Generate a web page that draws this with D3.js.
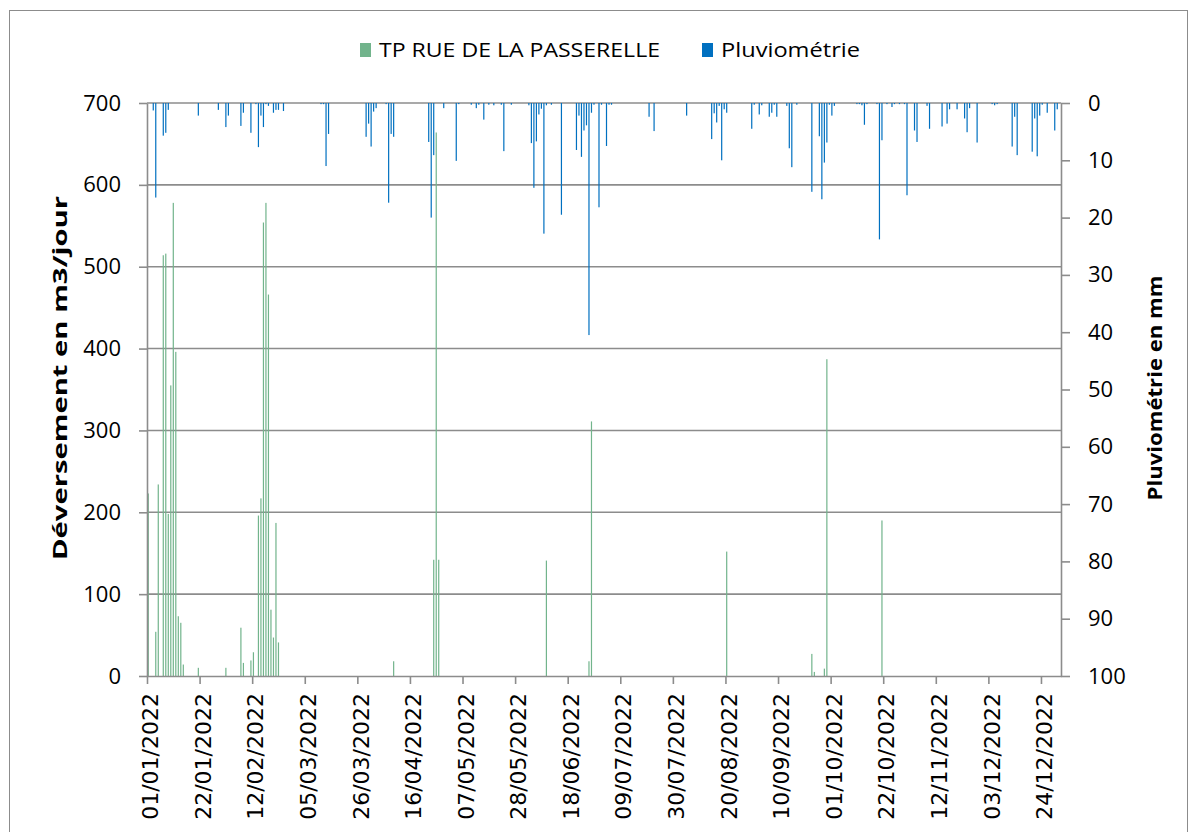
<!DOCTYPE html>
<html>
<head>
<meta charset="utf-8">
<script src="https://cdn.jsdelivr.net/npm/d3@7"></script>
<style>
  body { margin: 0; background: #fff; }
  svg text { font-family: "Open Sans", sans-serif; fill: #000; }
</style>
</head>
<body>
<div id="chart"></div>
<script>
  // labels on the date axis (every 21 days)
  var tickLabels = ["01/01/2022", "22/01/2022", "12/02/2022", "05/03/2022", "26/03/2022", "16/04/2022",
    "07/05/2022", "28/05/2022", "18/06/2022", "09/07/2022", "30/07/2022", "20/08/2022",
    "10/09/2022", "01/10/2022", "22/10/2022", "12/11/2022", "03/12/2022", "24/12/2022"];

  // déversement TP RUE DE LA PASSERELLE, day of year (0 = 01/01/2022) and m3/jour
  var overflowDay = [0, 3, 4, 6, 7, 8, 9, 10, 11, 12, 13, 14, 20, 31, 37, 38, 41, 42, 44, 45, 46, 47, 48,
    49, 50, 51, 52, 98, 114, 115, 116, 159, 176, 177, 231, 265, 266, 270, 271, 293];
  var overflowM3 = [223, 54, 234, 514, 516, 198, 355, 578, 396, 73, 65, 14, 10, 10, 59, 16, 19, 29, 196, 217, 554, 578, 466,
    81, 47, 187, 41, 18, 142, 664, 142, 141, 18, 311, 152, 27, 5, 9, 387, 190];

  // pluviométrie, day of year (0 = 01/01/2022) and mm
  var rainDay = [2, 3, 6, 7, 8, 20, 28, 31, 32, 37, 38, 41, 43, 44, 45, 46, 47, 48, 50, 51, 52, 54,
    69, 70, 71, 72, 87, 88, 89, 90, 91, 95, 96, 97, 98, 112, 113, 114, 118, 123, 124,
    129, 131, 132, 134, 136, 138, 141, 142, 145, 152, 153, 154, 155, 156, 157, 158, 159, 161, 165,
    171, 172, 173, 174, 175, 176, 177, 178, 180, 181, 183, 184, 185, 200, 202, 215,
    225, 226, 227, 228, 229, 230, 231, 241, 242, 244, 245, 248, 249, 250, 251, 255, 256, 257, 259,
    265, 268, 269, 270, 271, 272, 273, 274, 283, 284, 285, 286, 287, 291, 292, 293, 295, 297, 298,
    300, 302, 303, 306, 307, 311, 312, 317, 319, 320, 323, 326, 327, 328, 331, 337, 338, 339,
    345, 346, 347, 353, 354, 355, 356, 357, 359, 362, 363];
  var rainMm = [1.3, 16.5, 5.7, 5.2, 1.2, 2.2, 1.2, 4.2, 2.2, 4.0, 1.7, 5.2, 0.2, 7.7, 2.2, 4.2, 0.2, 0.5, 1.7, 1.2, 1.2, 1.4,
    0.2, 0.2, 11, 5.4, 5.9, 3.6, 7.6, 1.5, 0.9, 0.2, 17.4, 5.4, 5.9, 6.8, 20, 9.1, 0.9, 10.1, 0.2,
    0.3, 0.9, 0.3, 2.9, 0.3, 0.4, 0.3, 8.4, 0.3, 0.4, 7.0, 14.8, 6.7, 2.0, 1.0, 22.8, 0.4, 0.3, 19.5,
    8.2, 2.2, 9.4, 4.8, 3.9, 40.5, 1.7, 0.3, 18.2, 0.3, 7.5, 0.3, 0.3, 2.4, 4.9, 2.2,
    6.3, 1.8, 3.4, 0.5, 10.0, 1.1, 1.7, 4.5, 0.3, 2.0, 0.4, 2.4, 1.7, 0.3, 2.4, 0.5, 7.9, 11.2, 0.3,
    15.5, 5.8, 16.8, 10.4, 6.9, 0.3, 2.2, 0.5, 0.2, 0.2, 0.4, 3.8, 0.2, 0.2, 23.8, 6.5, 0.2, 0.7, 0.2,
    0.2, 0.2, 16.1, 4.8, 6.8, 0.5, 4.5, 4.1, 3.6, 1.1, 1.1, 2.7, 5.1, 0.9, 6.9, 0.2, 0.4, 0.2,
    7.6, 2.4, 9.1, 8.5, 2.7, 9.3, 2.2, 0.3, 1.7, 4.8, 1.1];

  var green = "#72b48c";
  var blue = "#0070c0";
  var grid = "#8c8c8c";

  var margin = {left: 147, top: 103};
  var width = 914;
  var height = 573;

  var parseDate = d3.timeParse("%d/%m/%Y");
  var formatDate = d3.timeFormat("%d/%m/%Y");
  var start = parseDate("01/01/2022");
  var end = parseDate("01/01/2023");

  var x = d3.scaleTime().domain([start, end]).range([0, width]);
  var y = d3.scaleLinear().domain([0, 700]).range([height, 0]);
  var yRain = d3.scaleLinear().domain([0, 100]).range([0, height]);  // inverted: 0 at top

  var dayW = x(d3.timeDay.offset(start, 1)) - x(start);
  var barW = 1.2;

  function dayX(d) {
    return x(d3.timeDay.offset(start, d)) + dayW / 2 - barW / 2;
  }

  var overflow = overflowDay.map(function (d, i) { return {day: d, value: overflowM3[i]}; });
  var rain = rainDay.map(function (d, i) { return {day: d, value: rainMm[i]}; });

  var svg = d3.select("#chart")
    .append("svg")
    .attr("width", 1190)
    .attr("height", 832);

  // chart frame
  svg.append("rect")
    .attr("x", 9.5)
    .attr("y", 10.5)
    .attr("width", 1178)
    .attr("height", 900)
    .attr("fill", "none")
    .attr("stroke", "#8c8c8c")
    .attr("stroke-width", 1);

  var chartGroup = svg.append("g")
    .attr("transform", "translate(" + margin.left + "," + margin.top + ")");

  // horizontal gridlines
  chartGroup.append("g")
    .selectAll("line")
    .data(d3.range(100, 701, 100))
    .enter().append("line")
    .attr("x1", 0)
    .attr("x2", width)
    .attr("y1", function (d) { return y(d); })
    .attr("y2", function (d) { return y(d); })
    .attr("stroke", grid)
    .attr("stroke-width", 1.6);

  chartGroup.append("g")
    .selectAll("rect")
    .data(overflow)
    .enter().append("rect")
    .attr("x", function (d) { return dayX(d.day); })
    .attr("y", function (d) { return y(d.value); })
    .attr("width", barW)
    .attr("height", function (d) { return height - y(d.value); })
    .attr("fill", green);

  chartGroup.append("g")
    .selectAll("rect")
    .data(rain)
    .enter().append("rect")
    .attr("x", function (d) { return dayX(d.day); })
    .attr("y", 0)
    .attr("width", barW)
    .attr("height", function (d) { return yRain(d.value); })
    .attr("fill", blue);

  function styleAxis(g) {
    g.select(".domain").attr("stroke", grid).attr("stroke-width", 1.6);
    g.selectAll(".tick line").attr("stroke", grid).attr("stroke-width", 1.6);
  }

  // left axis
  var yAxis = d3.axisLeft(y).tickValues(d3.range(0, 701, 100)).tickSize(8).tickSizeOuter(0);
  chartGroup.append("g")
    .call(yAxis)
    .call(styleAxis)
    .selectAll("text")
    .attr("x", -26)
    .style("font-size", "22px");

  // right axis (pluviométrie, inverted)
  var yAxisRight = d3.axisRight(yRain).tickValues(d3.range(0, 101, 10)).tickSize(9).tickSizeOuter(0);
  chartGroup.append("g")
    .attr("transform", "translate(" + width + ",0)")
    .call(yAxisRight)
    .call(styleAxis)
    .selectAll("text")
    .attr("x", 27)
    .attr("text-anchor", "start")
    .style("font-size", "22px");

  // bottom date axis
  var xAxis = d3.axisBottom(x)
    .tickValues(tickLabels.map(parseDate))
    .tickFormat(formatDate)
    .tickSize(8)
    .tickSizeOuter(0);
  chartGroup.append("g")
    .attr("transform", "translate(0," + height + ")")
    .call(xAxis)
    .call(styleAxis)
    .selectAll("text")
    .attr("transform", "rotate(-90)")
    .attr("x", -17)
    .attr("y", 3)
    .attr("dy", "0.35em")
    .attr("text-anchor", "end")
    .style("font-family", "DejaVu Sans")
    .style("font-size", "22px");

  // axis titles
  svg.append("text")
    .attr("transform", "translate(67,378) rotate(-90)")
    .attr("text-anchor", "middle")
    .attr("textLength", 364)
    .attr("lengthAdjust", "spacingAndGlyphs")
    .style("font-size", "20px")
    .style("font-weight", "bold")
    .text("Déversement en m3/jour");

  svg.append("text")
    .attr("transform", "translate(1162,388) rotate(-90)")
    .attr("text-anchor", "middle")
    .attr("textLength", 225)
    .attr("lengthAdjust", "spacingAndGlyphs")
    .style("font-size", "20px")
    .style("font-weight", "bold")
    .text("Pluviométrie en mm");

  // legend
  var legend = [
    {name: "TP RUE DE LA PASSERELLE", color: green, x: 360, len: 281},
    {name: "Pluviométrie", color: blue, x: 702, len: 139}
  ];
  var lg = svg.append("g").selectAll("g").data(legend).enter().append("g");
  lg.append("rect")
    .attr("x", function (d) { return d.x; })
    .attr("y", 43)
    .attr("width", 11)
    .attr("height", 14)
    .attr("fill", function (d) { return d.color; });
  lg.append("text")
    .attr("x", function (d) { return d.x + 19; })
    .attr("y", 57)
    .attr("textLength", function (d) { return d.len; })
    .attr("lengthAdjust", "spacingAndGlyphs")
    .style("font-size", "20px")
    .text(function (d) { return d.name; });
</script>
</body>
</html>
